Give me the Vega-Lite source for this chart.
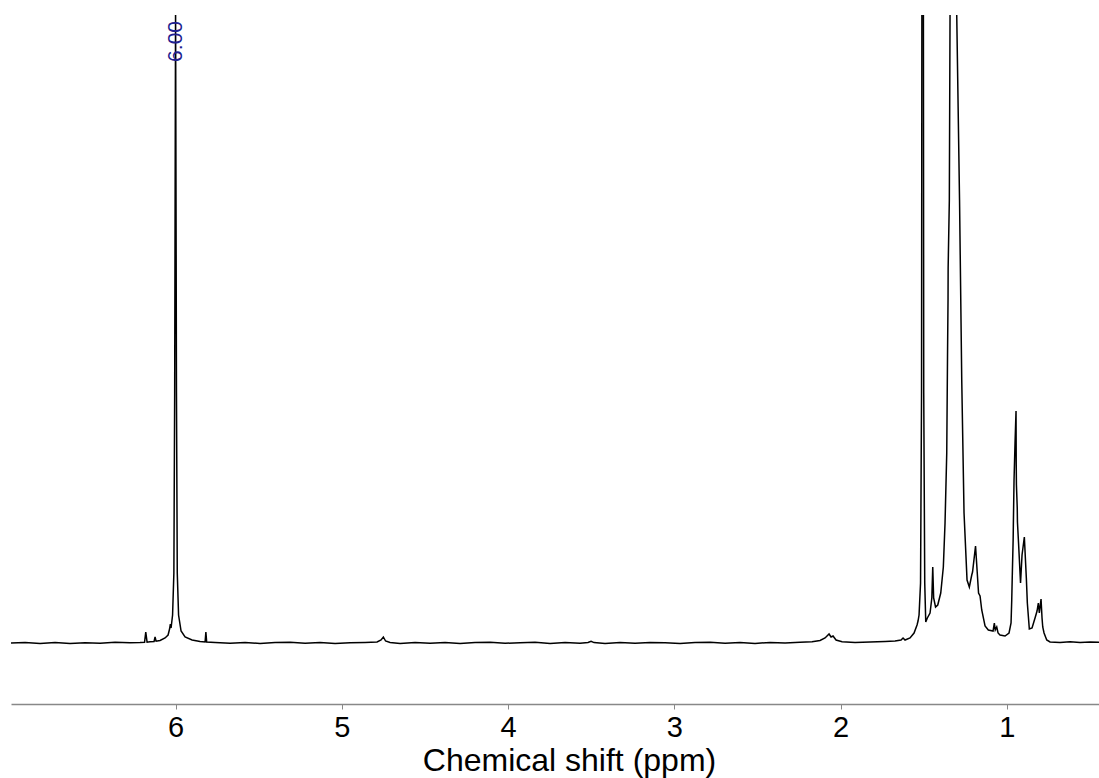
{
  "$schema": "https://vega.github.io/schema/vega-lite/v6.json",
  "width": 1088,
  "height": 689,
  "autosize": {"type": "none"},
  "padding": {"left": 11, "top": 15, "right": 0, "bottom": 74},
  "background": "white",
  "config": {"view": {"stroke": null}, "font": "Liberation Sans"},
  "layer": [
    {
      "data": {"values": [
        {"ppm": 6.99, "intensity": 0},
        {"ppm": 6.905, "intensity": 0.6},
        {"ppm": 6.815, "intensity": -0.4},
        {"ppm": 6.725, "intensity": 0.5},
        {"ppm": 6.635, "intensity": -0.6},
        {"ppm": 6.544, "intensity": 0.3},
        {"ppm": 6.454, "intensity": -0.3},
        {"ppm": 6.364, "intensity": 0.7},
        {"ppm": 6.274, "intensity": 0.2},
        {"ppm": 6.2135, "intensity": 0.5},
        {"ppm": 6.1865, "intensity": 0.8},
        {"ppm": 6.1793, "intensity": 11},
        {"ppm": 6.1714, "intensity": 0.8},
        {"ppm": 6.1534, "intensity": 1.2},
        {"ppm": 6.1293, "intensity": 1.5},
        {"ppm": 6.1233, "intensity": 6},
        {"ppm": 6.1173, "intensity": 1.8},
        {"ppm": 6.0932, "intensity": 2.5},
        {"ppm": 6.0632, "intensity": 5},
        {"ppm": 6.0451, "intensity": 8},
        {"ppm": 6.0361, "intensity": 14},
        {"ppm": 6.0313, "intensity": 19},
        {"ppm": 6.0271, "intensity": 15},
        {"ppm": 6.018, "intensity": 28},
        {"ppm": 6.0102, "intensity": 70},
        {"ppm": 6.0054, "intensity": 250},
        {"ppm": 6.0, "intensity": 640},
        {"ppm": 5.9946, "intensity": 250},
        {"ppm": 5.9898, "intensity": 70},
        {"ppm": 5.982, "intensity": 28},
        {"ppm": 5.9669, "intensity": 12},
        {"ppm": 5.9429, "intensity": 6},
        {"ppm": 5.9007, "intensity": 3},
        {"ppm": 5.8526, "intensity": 1.5},
        {"ppm": 5.8225, "intensity": 1},
        {"ppm": 5.8177, "intensity": 11},
        {"ppm": 5.8129, "intensity": 1},
        {"ppm": 5.7624, "intensity": 0.5},
        {"ppm": 5.6722, "intensity": -0.3},
        {"ppm": 5.5819, "intensity": 0.6},
        {"ppm": 5.4917, "intensity": -0.5},
        {"ppm": 5.4015, "intensity": 0.4},
        {"ppm": 5.3112, "intensity": 0.8},
        {"ppm": 5.221, "intensity": -0.2},
        {"ppm": 5.1308, "intensity": 0.5},
        {"ppm": 5.0405, "intensity": -0.6},
        {"ppm": 4.9503, "intensity": 0.3},
        {"ppm": 4.8601, "intensity": 0.6},
        {"ppm": 4.7879, "intensity": 1},
        {"ppm": 4.7638, "intensity": 3},
        {"ppm": 4.75, "intensity": 6},
        {"ppm": 4.7368, "intensity": 2},
        {"ppm": 4.7097, "intensity": 0.5},
        {"ppm": 4.6495, "intensity": -0.4},
        {"ppm": 4.5593, "intensity": 0.6},
        {"ppm": 4.4691, "intensity": -0.2},
        {"ppm": 4.3788, "intensity": 0.5},
        {"ppm": 4.2886, "intensity": -0.6},
        {"ppm": 4.1984, "intensity": 0.4},
        {"ppm": 4.1082, "intensity": 0.7},
        {"ppm": 4.0179, "intensity": -0.3},
        {"ppm": 3.9277, "intensity": 0.3},
        {"ppm": 3.8375, "intensity": 0.8},
        {"ppm": 3.7472, "intensity": -0.5},
        {"ppm": 3.657, "intensity": 0.4},
        {"ppm": 3.5668, "intensity": -0.2},
        {"ppm": 3.5186, "intensity": 0.5},
        {"ppm": 3.5006, "intensity": 1.8},
        {"ppm": 3.4826, "intensity": 0.4},
        {"ppm": 3.4164, "intensity": -0.4},
        {"ppm": 3.3262, "intensity": 0.5},
        {"ppm": 3.2359, "intensity": -0.3},
        {"ppm": 3.1457, "intensity": 0.6},
        {"ppm": 3.0555, "intensity": 0.2},
        {"ppm": 2.9652, "intensity": -0.5},
        {"ppm": 2.875, "intensity": 0.4},
        {"ppm": 2.7848, "intensity": 0.7},
        {"ppm": 2.6945, "intensity": -0.2},
        {"ppm": 2.6043, "intensity": 0.5},
        {"ppm": 2.5141, "intensity": -0.4},
        {"ppm": 2.4238, "intensity": 0.6},
        {"ppm": 2.3336, "intensity": 0.1},
        {"ppm": 2.2434, "intensity": 0.8},
        {"ppm": 2.1712, "intensity": 1.2},
        {"ppm": 2.1231, "intensity": 2.5},
        {"ppm": 2.093, "intensity": 5},
        {"ppm": 2.0689, "intensity": 9},
        {"ppm": 2.0569, "intensity": 6},
        {"ppm": 2.0449, "intensity": 7},
        {"ppm": 2.0268, "intensity": 3},
        {"ppm": 1.9907, "intensity": 1.2},
        {"ppm": 1.9125, "intensity": 0.6},
        {"ppm": 1.8223, "intensity": 1},
        {"ppm": 1.732, "intensity": 1.5},
        {"ppm": 1.6719, "intensity": 2},
        {"ppm": 1.6358, "intensity": 3},
        {"ppm": 1.6238, "intensity": 5},
        {"ppm": 1.6118, "intensity": 3},
        {"ppm": 1.5817, "intensity": 5},
        {"ppm": 1.5576, "intensity": 10},
        {"ppm": 1.5396, "intensity": 18},
        {"ppm": 1.5336, "intensity": 22},
        {"ppm": 1.5275, "intensity": 28},
        {"ppm": 1.5185, "intensity": 60},
        {"ppm": 1.5125, "intensity": 250},
        {"ppm": 1.5059, "intensity": 1500},
        {"ppm": 1.4993, "intensity": 250},
        {"ppm": 1.4933, "intensity": 60},
        {"ppm": 1.4872, "intensity": 21},
        {"ppm": 1.4776, "intensity": 25},
        {"ppm": 1.4614, "intensity": 30},
        {"ppm": 1.4506, "intensity": 45},
        {"ppm": 1.4451, "intensity": 76},
        {"ppm": 1.4397, "intensity": 45},
        {"ppm": 1.4283, "intensity": 36},
        {"ppm": 1.4151, "intensity": 38},
        {"ppm": 1.397, "intensity": 50},
        {"ppm": 1.3814, "intensity": 76},
        {"ppm": 1.3712, "intensity": 120},
        {"ppm": 1.3609, "intensity": 190},
        {"ppm": 1.3561, "intensity": 290},
        {"ppm": 1.3531, "intensity": 345},
        {"ppm": 1.3525, "intensity": 375},
        {"ppm": 1.3453, "intensity": 443},
        {"ppm": 1.3411, "intensity": 628},
        {"ppm": 1.3212, "intensity": 3000},
        {"ppm": 1.3008, "intensity": 628},
        {"ppm": 1.2839, "intensity": 443},
        {"ppm": 1.2707, "intensity": 263},
        {"ppm": 1.2569, "intensity": 130},
        {"ppm": 1.2388, "intensity": 63},
        {"ppm": 1.225, "intensity": 56},
        {"ppm": 1.2105, "intensity": 68},
        {"ppm": 1.2057, "intensity": 71},
        {"ppm": 1.1877, "intensity": 97},
        {"ppm": 1.1696, "intensity": 50},
        {"ppm": 1.1606, "intensity": 47},
        {"ppm": 1.1504, "intensity": 33},
        {"ppm": 1.1305, "intensity": 17},
        {"ppm": 1.1107, "intensity": 13},
        {"ppm": 1.0824, "intensity": 12},
        {"ppm": 1.0746, "intensity": 20},
        {"ppm": 1.0692, "intensity": 13},
        {"ppm": 1.0602, "intensity": 16},
        {"ppm": 1.0523, "intensity": 10},
        {"ppm": 1.0403, "intensity": 8},
        {"ppm": 1.0102, "intensity": 7},
        {"ppm": 0.9862, "intensity": 10},
        {"ppm": 0.9741, "intensity": 20},
        {"ppm": 0.9699, "intensity": 43},
        {"ppm": 0.9663, "intensity": 70},
        {"ppm": 0.9615, "intensity": 103},
        {"ppm": 0.9603, "intensity": 117},
        {"ppm": 0.9561, "intensity": 163},
        {"ppm": 0.9501, "intensity": 200},
        {"ppm": 0.9441, "intensity": 232},
        {"ppm": 0.9429, "intensity": 178},
        {"ppm": 0.9417, "intensity": 158},
        {"ppm": 0.9368, "intensity": 135},
        {"ppm": 0.9356, "intensity": 121},
        {"ppm": 0.929, "intensity": 100},
        {"ppm": 0.917, "intensity": 60},
        {"ppm": 0.908, "intensity": 88},
        {"ppm": 0.8941, "intensity": 106},
        {"ppm": 0.8821, "intensity": 65},
        {"ppm": 0.8761, "intensity": 40},
        {"ppm": 0.8641, "intensity": 14},
        {"ppm": 0.8478, "intensity": 15},
        {"ppm": 0.8298, "intensity": 25},
        {"ppm": 0.8177, "intensity": 32},
        {"ppm": 0.8099, "intensity": 40},
        {"ppm": 0.8039, "intensity": 30},
        {"ppm": 0.7937, "intensity": 44},
        {"ppm": 0.7877, "intensity": 25},
        {"ppm": 0.7834, "intensity": 16},
        {"ppm": 0.7756, "intensity": 10},
        {"ppm": 0.7594, "intensity": 3},
        {"ppm": 0.7395, "intensity": 1},
        {"ppm": 0.6794, "intensity": 0.5},
        {"ppm": 0.6192, "intensity": 1.3},
        {"ppm": 0.5591, "intensity": 0.6},
        {"ppm": 0.4989, "intensity": 1.1},
        {"ppm": 0.4448, "intensity": 0.8}
      ]},
      "mark": {"type": "line", "color": "black", "strokeWidth": 1.5, "clip": true},
      "encoding": {
        "x": {
          "field": "ppm",
          "type": "quantitative",
          "scale": {"domain": [0.445, 6.99], "reverse": true, "nice": false, "zero": false},
          "axis": {
            "values": [1, 2, 3, 4, 5, 6],
            "format": "d",
            "title": "Chemical shift (ppm)",
            "grid": false,
            "domainColor": "#888888",
            "domainWidth": 1.3,
            "tickColor": "#888888",
            "tickSize": 5,
            "labelFontSize": 29,
            "labelColor": "black",
            "labelPadding": 4,
            "titleFontSize": 32,
            "titleFontWeight": "normal",
            "titleColor": "black",
            "titlePadding": 3,
            "titleX": 558
          }
        },
        "y": {
          "field": "intensity",
          "type": "quantitative",
          "scale": {"domain": [-61, 628], "nice": false, "zero": false},
          "axis": null
        }
      }
    },
    {
      "data": {"values": [{"ppm": 6.0, "label": "6.00", "intensity": 622}]},
      "mark": {"type": "text", "angle": 270, "align": "right", "baseline": "middle", "color": "#20208f", "fontSize": 21},
      "encoding": {
        "x": {"field": "ppm", "type": "quantitative"},
        "y": {"field": "intensity", "type": "quantitative"},
        "text": {"field": "label"}
      }
    }
  ]
}
